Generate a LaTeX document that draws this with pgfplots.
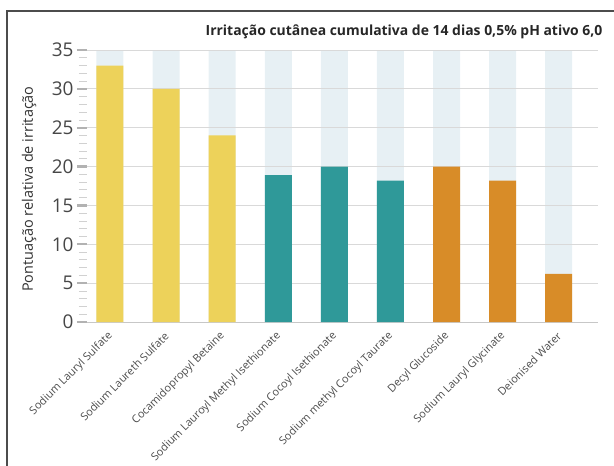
\documentclass[border=0pt]{standalone}
\usepackage{pgfplots}
\pgfplotsset{compat=1.18}
\usepackage{fontspec}
\setmainfont{Open Sans}
\definecolor{cyel}{RGB}{237,210,90}
\definecolor{cteal}{RGB}{47,153,153}
\definecolor{corg}{RGB}{216,140,40}
\definecolor{cbg}{RGB}{231,240,244}
\begin{document}
\begin{tikzpicture}
\useasboundingbox (0,0) rectangle (614bp,466bp);
\draw[line width=1.5bp, draw=black!70] (7bp,-2bp) -- (7bp,455bp) -- (616bp,455bp);
\begin{axis}[
  at={(87bp,144bp)}, anchor=south west,
  scale only axis, width=511bp, height=272bp,
  xmin=-0.41, xmax=8.70, ymin=0, ymax=35,
  ytick={0,5,...,35}, minor y tick num=4,
  xtick={0,...,8},
  xticklabels={Sodium Lauryl Sulfate,Sodium Laureth Sulfate,Cocamidopropyl Betaine,Sodium Lauroyl Methyl Isethionate,Sodium Cocoyl Isethionate,Sodium methyl Cocoyl Taurate,Decyl Glucoside,Sodium Lauryl Glycinate,Deionised Water},
  clip=false,
  axis x line*=bottom, axis y line*=left,
  y axis line style={draw=none},
  x axis line style={draw=black!22, line width=1bp, -},
  tick align=outside, major tick length=10bp, minor tick length=8bp,
  every major tick/.append style={draw=black!30, line width=2.2bp},
  every minor tick/.append style={draw=black!18, line width=0.8bp},
  xtick style={draw=none},
  /pgf/number format/assume math mode=true,
  yticklabel style={font=\fontsize{19}{19}\selectfont, text=black!72},
  xticklabel style={font=\fontsize{11}{12}\selectfont, text=black!70, rotate=45, anchor=east, inner sep=1bp, yshift=-2bp},
]
\addplot[ybar, bar width=27bp, bar shift=0pt, fill=cbg, draw=none] coordinates {(0,35)(1,35)(2,35)(3,35)(4,35)(5,35)(6,35)(7,35)(8,35)};
\addplot[black!15, line width=1bp, forget plot] coordinates {(-0.41,5)(8.70,5)};
\addplot[black!15, line width=1bp, forget plot] coordinates {(-0.41,10)(8.70,10)};
\addplot[black!15, line width=1bp, forget plot] coordinates {(-0.41,15)(8.70,15)};
\addplot[black!15, line width=1bp, forget plot] coordinates {(-0.41,20)(8.70,20)};
\addplot[black!15, line width=1bp, forget plot] coordinates {(-0.41,25)(8.70,25)};
\addplot[black!15, line width=1bp, forget plot] coordinates {(-0.41,30)(8.70,30)};
\addplot[black!15, line width=1bp, forget plot] coordinates {(-0.41,35)(8.70,35)};
\addplot[ybar, bar width=27bp, bar shift=0pt, fill=cyel, draw=none] coordinates {(0,33)(1,30)(2,24)};
\addplot[ybar, bar width=27bp, bar shift=0pt, fill=cteal, draw=none] coordinates {(3,18.9)(4,20)(5,18.2)};
\addplot[ybar, bar width=27bp, bar shift=0pt, fill=corg, draw=none] coordinates {(6,20)(7,18.2)(8,6.2)};
\end{axis}
\node[anchor=east, font=\bfseries\fontsize{14}{14}\selectfont, text=black!85] at (606bp,434bp) {Irritação cutânea cumulativa de 14 dias 0,5\% pH ativo 6,0};
\node[rotate=90, font=\fontsize{14.5}{14.5}\selectfont, text=black!80] at (29bp,277bp) {Pontuação relativa de irritação};
\end{tikzpicture}
\end{document}
